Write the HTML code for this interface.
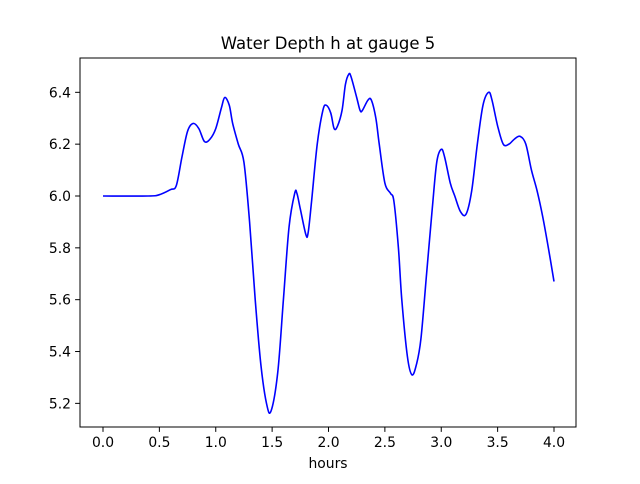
<!DOCTYPE html>
<html><head><meta charset="utf-8"><style>
body{margin:0;background:#fff;font-family:"DejaVu Sans","Liberation Sans",sans-serif}
svg text{font-family:"DejaVu Sans","Liberation Sans",sans-serif}
</style></head><body>
<svg id="chart" width="640" height="480" xmlns="http://www.w3.org/2000/svg">
<rect width="640" height="480" fill="#fff"/>
<text x="328" y="49" font-size="16.5" text-anchor="middle">Water Depth h at gauge 5</text>
<text x="328" y="468" font-size="13.9" text-anchor="middle">hours</text>
<g id="plot"></g>
</svg>
<script>
const hours=[0,0.4,0.5,0.6,0.65,0.7,0.75,0.8,0.85,0.9,0.95,1.0,1.05,1.08,1.12,1.15,1.2,1.25,1.3,1.35,1.4,1.45,1.49,1.55,1.6,1.65,1.7,1.72,1.75,1.8,1.82,1.85,1.9,1.95,1.98,2.02,2.05,2.08,2.12,2.15,2.18,2.2,2.25,2.28,2.3,2.35,2.38,2.42,2.45,2.5,2.55,2.58,2.62,2.65,2.7,2.74,2.78,2.82,2.87,2.92,2.96,3.0,3.03,3.08,3.12,3.17,3.22,3.27,3.32,3.37,3.42,3.45,3.5,3.55,3.6,3.65,3.7,3.75,3.8,3.85,3.9,3.95,4.0];
const depth=[6.0,6.0,6.005,6.025,6.04,6.15,6.25,6.28,6.26,6.21,6.22,6.26,6.34,6.38,6.35,6.28,6.2,6.13,5.9,5.6,5.35,5.2,5.17,5.32,5.6,5.88,6.01,6.01,5.95,5.85,5.86,5.98,6.2,6.33,6.35,6.32,6.26,6.27,6.33,6.43,6.47,6.46,6.38,6.33,6.33,6.37,6.37,6.3,6.2,6.05,6.01,5.98,5.8,5.6,5.38,5.31,5.35,5.45,5.7,5.95,6.13,6.18,6.15,6.05,6.0,5.94,5.93,6.02,6.2,6.35,6.4,6.37,6.27,6.2,6.2,6.22,6.23,6.2,6.1,6.02,5.92,5.8,5.67];
const xTicks=[0,0.5,1,1.5,2,2.5,3,3.5,4];
const xTickLabels=["0.0","0.5","1.0","1.5","2.0","2.5","3.0","3.5","4.0"];
const yTicks=[5.2,5.4,5.6,5.8,6.0,6.2,6.4];
const yTickLabels=["5.2","5.4","5.6","5.8","6.0","6.2","6.4"];
const L=80,R=576,T=58,B=427;
const x=v=>103+v*112.75;
const y=v=>196-(v-6.0)*259.2;
const NS="http://www.w3.org/2000/svg";
const g=document.getElementById('plot');
function mk(t,a){const e=document.createElementNS(NS,t);for(const k in a)e.setAttribute(k,a[k]);g.appendChild(e);return e;}
const P=hours.map((h,i)=>[x(h),y(depth[i])]);
let d="M"+P[0][0].toFixed(2)+","+P[0][1].toFixed(2);
for(let i=0;i<P.length-1;i++){
 const p0=P[Math.max(0,i-1)],p1=P[i],p2=P[i+1],p3=P[Math.min(P.length-1,i+2)];
 const c1=[p1[0]+(p2[0]-p0[0])/6,p1[1]+(p2[1]-p0[1])/6];
 const c2=[p2[0]-(p3[0]-p1[0])/6,p2[1]-(p3[1]-p1[1])/6];
 d+="C"+c1[0].toFixed(2)+","+c1[1].toFixed(2)+" "+c2[0].toFixed(2)+","+c2[1].toFixed(2)+" "+p2[0].toFixed(2)+","+p2[1].toFixed(2);
}
const line=mk('path',{d:d,fill:'none',stroke:'#0000ff','stroke-width':1.6,'stroke-linejoin':'round'});


xTicks.forEach((v,i)=>{
 const t=mk('line',{x1:x(v),x2:x(v),y1:B,y2:B+4.9,stroke:'#000','stroke-width':1});
 
 
 const l=mk('text',{x:x(v),y:B+20,'font-size':13.9,'text-anchor':'middle'});l.textContent=xTickLabels[i];
 
 
});
yTicks.forEach((v,i)=>{
 const t=mk('line',{x1:L-4.9,x2:L,y1:y(v),y2:y(v),stroke:'#000','stroke-width':1});
 
 
 const l=mk('text',{x:L-9,y:y(v)+5,'font-size':13.9,'text-anchor':'end'});l.textContent=yTickLabels[i];
 
 
});
const fr=mk('rect',{x:L,y:T,width:R-L,height:B-T,fill:'none',stroke:'#000','stroke-width':1});


</script>
</body></html>
